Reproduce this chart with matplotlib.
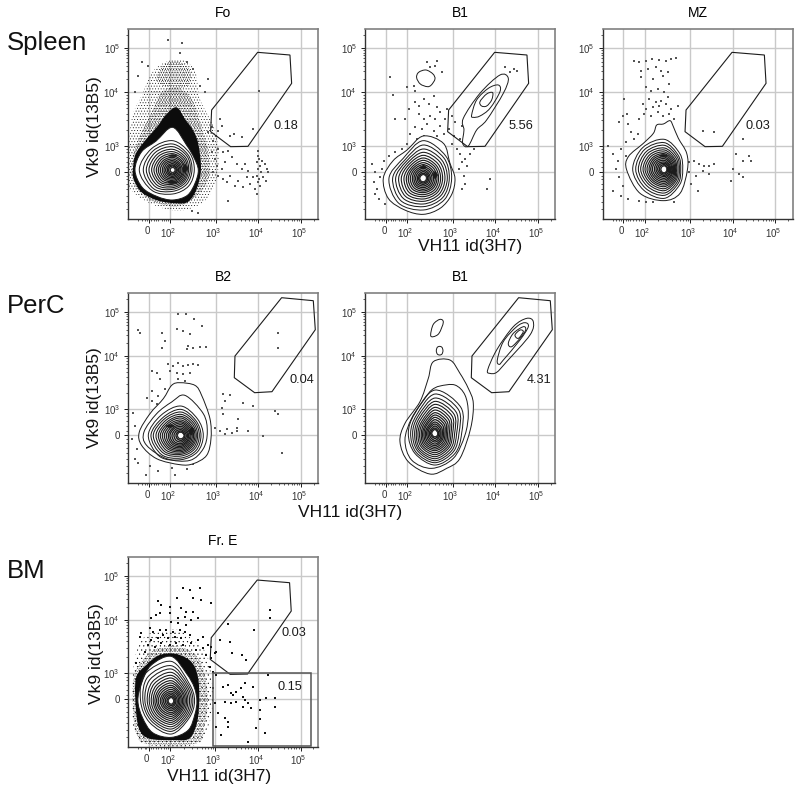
import numpy as np
import matplotlib
matplotlib.use("Agg")
import matplotlib.pyplot as plt
from matplotlib.path import Path
from matplotlib.patches import PathPatch
from matplotlib.transforms import ScaledTranslation

plt.rcParams['font.family'] = ['Liberation Sans', 'DejaVu Sans']
plt.rcParams['mathtext.fontset'] = 'custom'
plt.rcParams['mathtext.rm'] = 'Liberation Sans'
plt.rcParams['hatch.linewidth'] = 0.3

# ---- axis: biexponential channel scale, 0..570
TICK_CHANNELS_X = [62, 126, 262, 390, 518]
TICK_CHANNELS_Y = [142, 220, 380, 512]
X_LABELS = ['0', r'$\mathregular{10^{2}}$', r'$\mathregular{10^{3}}$', r'$\mathregular{10^{4}}$', r'$\mathregular{10^{5}}$']
Y_LABELS = ['0', r'$\mathregular{10^{3}}$', r'$\mathregular{10^{4}}$', r'$\mathregular{10^{5}}$']

GATE_LOW = [(250,327),(247,262),(307,217),(359,218),(490,407),(485,492),(388,500)]
GATE_HIGH = [(320,380),(318,315),(379,270),(431,273),(561,459),(555,546),(460,555)]
BM_RECT = [(255,3),(255,220),(550,220),(550,3)]

# ---- Fo
FO_CENTER = (133,147)
FO_OUTER = [77,74,85,128,100,108,113,105,92,90,88,78]
FO_RINGS = [[65,72,88,90,100,87,72,68],[58,65,78,82,88,80,64,60],[53,60,70,74,79,72,58,54],
 [48,54,62,66,71,65,53,49],[44,49,55,59,63,58,48,45],[40,44,49,52,56,52,43,41],[36,39,43,46,49,46,39,37],
 [33,35,38,40,43,40,35,33],[29,30,33,35,37,35,31,30],[25,26,28,30,31,30,27,26],[22,22,24,25,26,25,23,22],
 [18,18,19,20,21,20,19,18],[14,14,15,16,16,16,15,14],[11,11,12,12,12,12,12,11],[7,7,7,7,7,7,7,7]]
FO_BLOBS = [(170,152,[10,8,12,7,8,7,12,8]),(133,110,[14,5,4,5,14,5,4,5]),(133,190,[12,4,3,4,12,4,3,4])]
FO_SOLID = [(14,150),(22,195),(50,235),(85,275),(115,315),(145,335),(170,300),(195,265),(210,225),(218,150),
 (205,90),(180,52),(145,47),(90,55),(40,80),(16,120)]
FO_HATCH_INNER = [(10,170),(35,250),(70,320),(100,380),(145,395),(190,360),(215,290),(240,200),(240,120),(200,65),
 (145,38),(70,55),(20,100)]
FO_HATCH_OUTER = [(0,180),(0,100),(65,47),(155,25),(235,60),(270,150),(262,260),(215,360),(200,445),(150,480),
 (80,450),(40,370),(10,300)]
FO_HATCH_TOP = [(85,425),(110,465),(150,472),(185,445),(180,400),(130,395),(95,405)]
FO_DOTS = [(390,205),(388,190),(392,180),(385,170),(395,160),(390,150),(398,140),(386,130),(393,120),(388,110),
 (396,100),(402,175),(410,165),(415,150),(420,140),(405,125),(412,115),(380,90),(385,75),(300,55),(250,200),
 (260,180),(265,160),(255,140),(270,130),(280,150),(290,170),(285,120),(295,110),(305,130),(320,100),(330,115),
 (345,95),(355,125),(340,150),(365,105),(375,125),(360,145),(350,165),(325,165),(310,185),(300,205),(285,200),
 (270,210),(255,235),(262,250),(270,265),(280,280),(250,275),(240,260),(318,255),(340,245),(375,270),(393,385),
 (305,250),(120,537),(160,527),(155,497),(175,470),(195,450),(40,470),(60,460),(30,430),(20,380),(240,420),
 (215,400),(230,380),(275,300),(190,25),(210,18)]

# ---- B1 spleen
B1S_CENTER = (174,122)
B1S_OUTER = [95,92,121,127,98,105,120,121,110,108,103,98]
B1S_RINGS = [[85,95,113,85,103,105,95,90],[78,87,100,78,92,95,85,82],[72,78,88,72,83,85,77,74],
 [65,70,78,66,74,76,69,67],[58,62,69,60,66,68,62,60],[52,55,61,54,58,60,55,54],[46,49,54,48,51,53,49,48],
 [41,43,47,43,45,46,43,42],[36,37,41,38,39,40,38,37],[31,32,35,33,33,34,33,32],[26,27,30,28,28,29,28,27],
 [21,22,25,23,23,24,23,22],[17,18,20,18,18,19,18,17],[13,14,15,14,14,14,14,13],[9,10,11,10,10,10,10,9]]
B1S_BLOBS = [(209,132,[8,7,11,6,7,6,11,7]),(174,155,[10,6,8,5,12,5,4,5])]
B1S_ISLANDS = [[(154,424),(160,440),(182,447),(203,435),(209,420),(198,402),(186,397),(165,405)],
 [(294,302),(344,377),(404,432),(429,422),(414,377),(364,297),(334,267),(309,219),(292,227),(296,267)],
 [(319,312),(334,357),(369,392),(399,402),(404,382),(374,332),(344,309),(324,305)],
 [(344,352),(364,375),(382,379),(379,357),(364,339),(349,339)]]
B1S_DOTS = [(75,425),(185,470),(215,475),(230,440),(195,455),(210,460),(145,400),(150,385),(125,395),(82,372),
 (90,300),(150,350),(160,340),(175,360),(190,345),(205,370),(215,335),(160,315),(175,300),(195,310),(210,300),
 (225,320),(150,275),(170,270),(185,285),(205,265),(225,280),(240,300),(135,255),(155,240),(175,250),(195,240),
 (215,250),(235,255),(125,225),(145,215),(120,300),(130,330),(245,330),(260,310),(270,290),(250,270),(265,250),
 (285,240),(290,280),(260,225),(275,210),(285,195),(300,180),(315,195),(325,210),(290,170),(305,160),(280,150),
 (295,130),(300,105),(290,90),(375,120),(365,90),(420,455),(445,450),(435,440),(455,445),(20,165),(30,140),
 (25,110),(45,125),(35,90),(55,175),(70,190),(90,200),(110,210),(40,60),(60,45),(75,60),(50,150),(28,75)]

# ---- MZ
MZ_CENTER = (185,149)
MZ_OUTER = [(162,282),(182,285),(202,295),(212,277),(227,242),(252,197),(254,147),(232,77),(182,55),(112,77),
 (72,147),(77,187),(122,227),(152,257)]
MZ_RINGS = [[55,66,90,92,95,88,87,65],[49,59,80,84,86,80,78,59],[45,54,72,76,78,72,71,54],[41,49,64,69,71,65,64,49],
 [37,44,58,62,64,59,58,45],[34,40,52,56,58,53,52,41],[31,36,47,50,52,48,47,37],[28,32,42,45,46,43,42,33],
 [25,28,37,40,41,38,37,29],[22,25,32,35,36,33,32,26],[19,21,27,30,30,28,27,22],[16,18,22,25,25,23,22,19],
 [13,15,18,20,20,18,18,15],[10,11,14,15,15,14,14,11],[7,8,10,10,10,10,10,8]]
MZ_BLOBS = [(215,145,[7,6,12,5,6,5,12,6]),(182,190,[12,5,4,5,12,5,4,5])]
MZ_DOTS = [(95,475),(110,470),(130,475),(148,480),(170,478),(190,475),(205,480),(220,482),(115,445),(135,450),
 (160,455),(175,445),(195,440),(115,425),(150,420),(180,430),(200,405),(130,395),(145,385),(165,390),(185,380),
 (140,360),(160,350),(120,345),(130,330),(150,335),(170,340),(190,345),(205,330),(125,315),(145,310),(165,320),
 (180,310),(200,315),(215,300),(225,340),(110,300),(175,355),(195,365),(65,360),(72,315),(50,290),(60,310),
 (75,285),(85,260),(95,240),(105,255),(70,230),(15,220),(30,195),(45,175),(55,210),(70,190),(40,150),(50,125),
 (60,100),(30,85),(55,70),(75,60),(110,55),(130,50),(150,50),(215,50),(260,170),(275,175),(290,165),(305,160),
 (320,160),(335,165),(260,140),(280,130),(300,145),(320,135),(265,105),(285,85),(400,195),(440,190),(445,175),
 (390,150),(410,135),(420,125),(385,115),(420,175),(300,265),(335,260),(420,240)]

# ---- B2
B2_CENTER = (158,142)
B2_OUTER = [(155,300),(200,292),(220,262),(245,192),(248,132),(235,82),(195,57),(155,54),(85,72),(40,112),(33,152),
 (65,207),(105,252),(130,292)]
B2_SECOND = [(170,262),(225,207),(237,152),(225,102),(185,67),(115,72),(55,112),(47,152),(85,207),(130,242)]
B2_RINGS = [[67,70,88,85,98,90,73,70],[60,63,78,76,90,82,68,64],[55,58,70,70,83,75,62,58],[50,53,63,64,75,69,57,53],
 [46,48,57,58,68,63,53,48],[42,43,52,53,62,57,49,44],[38,39,46,48,56,52,45,40],[34,35,41,43,50,47,41,36],
 [30,31,37,38,44,42,37,32],[27,27,32,33,38,37,33,28],[23,23,27,29,33,32,29,25],[20,19,22,24,27,27,25,21],
 [16,15,17,19,21,21,20,17],[12,11,13,14,15,15,15,13],[9,8,9,10,10,10,10,9]]
B2_BLOBS = [(190,155,[8,9,12,6,8,9,12,6]),(125,170,[12,5,4,5,12,5,4,5])]
B2_DOTS = [(150,507),(172,505),(198,492),(222,470),(145,460),(165,455),(185,445),(100,450),(110,425),(100,405),
 (180,410),(175,400),(195,405),(215,407),(232,408),(30,457),(35,450),(120,355),(135,350),(150,360),(165,350),
 (180,352),(195,355),(210,352),(125,335),(145,330),(165,325),(185,330),(150,310),(170,305),(72,335),(85,330),
 (95,310),(70,275),(90,260),(110,280),(55,255),(70,245),(85,235),(100,225),(15,210),(20,170),(10,130),(25,100),
 (20,70),(30,60),(65,50),(90,35),(130,45),(175,40),(195,55),(52,22),(140,22),(285,265),(305,262),(290,245),
 (280,225),(285,205),(345,240),(330,190),(325,165),(260,165),(275,155),(295,160),(310,150),(290,145),(325,155),
 (360,155),(405,140),(375,230),(450,205),(460,90),(440,215),(450,450),(450,405)]

# ---- B1 peritoneal
B1P_CENTER = (209,148)
B1P_OUTER = [(204,363),(254,368),(284,328),(309,283),(324,238),(316,163),(284,73),(244,43),(194,26),(129,63),
 (104,123),(119,178),(164,243),(189,313)]
B1P_SECOND = [(224,290),(269,293),(299,263),(309,208),(299,143),(264,73),(199,43),(139,68),(119,128),(139,193),
 (179,253),(199,278)]
B1P_RINGS = [[80,110,130,85,80,85,95,85],[72,100,118,78,73,80,88,78],[65,90,106,72,67,74,82,72],[59,81,96,66,61,69,76,66],
 [53,73,87,60,56,64,70,60],[48,65,78,54,51,58,64,55],[43,58,70,49,46,53,58,50],[38,51,62,44,41,48,52,45],
 [34,45,55,39,37,43,47,40],[30,39,48,35,33,38,42,35],[26,33,41,30,29,33,37,30],[22,27,34,26,25,28,32,26],
 [18,22,28,22,21,23,26,22],[15,17,22,17,17,18,21,17],[11,12,16,13,13,13,15,13],[8,8,11,9,9,9,10,9]]
B1P_ISLANDS = [[(196,443),(204,475),(224,490),(234,481),(221,448),(204,438)],
 [(213,396),(216,406),(223,409),(230,406),(233,396),(230,386),(223,383),(216,386)],
 [(367,338),(394,398),(444,468),(484,493),(504,483),(494,443),(424,363),(394,331),(374,328)],
 [(396,368),(414,423),(454,468),(479,480),(489,468),(464,428),(414,368),(402,355)],
 [(429,418),(444,448),(474,468),(481,458),(464,433),(439,408)],
 [(449,443),(464,458),(474,453),(459,433)]]

# ---- Fr. E
FRE_CENTER = (130,138)
FRE_OUTER = [77,80,93,133,122,103,100,100,111,110,102,82]
FRE_RINGS = [[70,75,118,112,92,92,100,75],[65,70,105,100,85,85,92,70],[60,65,95,90,79,79,85,65],[55,60,85,80,72,73,78,60],
 [50,55,76,72,66,67,71,55],[46,50,68,64,60,61,65,50],[42,45,60,57,54,55,59,45],[38,41,53,50,49,50,53,41],
 [34,36,46,44,44,44,47,37],[30,32,40,38,39,39,41,33],[26,28,34,32,33,33,36,29],[22,24,28,27,28,28,30,25],
 [18,19,23,22,23,23,25,21],[14,15,18,17,18,18,20,16],[11,11,13,12,13,13,15,12],[7,7,9,8,9,9,10,8]]
FRE_SOLID = [(24,205),(55,245),(95,275),(145,278),(190,255),(210,210),(214,143),(208,75),(185,25),(135,20),(65,24),
 (35,50),(24,113)]
FRE_HATCH_INNER = [(18,210),(48,265),(90,295),(150,300),(205,275),(230,220),(240,140),(230,65),(205,10),(60,8),
 (25,40),(15,120)]
FRE_HATCH_OUTER = [(20,260),(50,330),(100,345),(150,350),(195,320),(235,280),(250,210),(255,130),(240,60),(200,5),
 (60,5),(22,40),(12,120)]
FRE_DOTS = [(165,475),(185,470),(215,477),(195,445),(220,440),(250,430),(90,437),(100,425),(125,420),(148,445),
 (125,400),(160,415),(175,405),(195,405),(210,385),(70,385),(85,395),(95,400),(150,385),(170,390),(130,375),
 (150,370),(175,365),(190,380),(40,340),(65,355),(75,345),(95,350),(115,350),(135,345),(155,350),(170,345),
 (35,330),(70,320),(90,325),(105,335),(120,325),(140,330),(160,325),(185,335),(60,305),(80,300),(100,310),
 (125,305),(145,310),(165,305),(190,310),(210,320),(225,330),(50,285),(205,290),(225,295),(240,305),(250,300),
 (25,250),(235,275),(250,265),(260,280),(245,240),(255,225),(265,215),(300,368),(377,350),(425,410),(425,385),
 (277,320),(307,315),(312,280),(342,275),(355,260),(265,285),(285,180),(300,185),(310,160),(325,165),(340,175),
 (350,190),(315,155),(345,150),(375,180),(420,215),(255,175),(260,130),(290,135),(310,130),(325,135),(350,140),
 (360,130),(345,120),(370,115),(395,140),(415,145),(440,145),(395,110),(442,120),(270,100),(290,85),(300,75),
 (265,60),(300,60),(385,55),(395,82),(412,40),(360,15),(280,35)]

W, H = 800, 789
fig = plt.figure(figsize=(W/100, H/100), dpi=100)
INK = '#1c1c1c'
TITLE_PAD = 8.5


def closed_smooth(x, y):
    """Closed Catmull-Rom outline through the read points, as Bezier path."""
    p = np.column_stack([x, y])
    n = len(p)
    verts = [p[0]]
    codes = [Path.MOVETO]
    for i in range(n):
        p0, p1, p2, p3 = p[i-1], p[i], p[(i+1) % n], p[(i+2) % n]
        verts += [p1+(p2-p0)/6, p2-(p3-p1)/6, p2]
        codes += [Path.CURVE4]*3
    return Path(verts, codes)


def polar(center, radii):
    r = np.asarray(radii, float)
    a = np.arange(len(r))*2*np.pi/len(r)
    return center[0]+r*np.cos(a), center[1]+r*np.sin(a)


def make_axes(left, top, size=190):
    ax = fig.add_axes([left/W, 1-(top+size)/H, size/W, size/H])
    ax.set_xlim(0, 570); ax.set_ylim(0, 570)
    ax.set_xticks(TICK_CHANNELS_X, X_LABELS)
    ax.set_yticks(TICK_CHANNELS_Y, Y_LABELS)
    mx = []
    for base, w in zip([126, 262, 390, 518], [136, 128, 128, 128]):
        mx += [base+w*np.log10(k) for k in range(2, 10)]
    mx += [30, 40, 50, 55, 69, 76, 83, 90, 100, 108, 114, 120]
    ax.set_xticks([v for v in mx if v < 570], minor=True)
    my = []
    for base, w in zip([220, 380, 512], [160, 132, 132]):
        my += [base+w*np.log10(k) for k in range(2, 10)]
    my += [30, 50, 70, 90, 105, 120, 130, 155, 170, 185, 200, 210]
    ax.set_yticks([v for v in my if v < 570], minor=True)
    ax.tick_params(which='major', length=3, width=0.7, color=INK, labelsize=7, labelcolor='#333333', pad=2.0)
    ax.tick_params(axis='y', which='major', pad=3.0)
    ax.tick_params(which='minor', length=1.6, width=0.5, color=INK)
    shift = ScaledTranslation(-2/100, 0, fig.dpi_scale_trans)
    for lab in ax.get_xticklabels():
        lab.set_transform(lab.get_transform()+shift)
    ax.grid(True, which='major', color='#c9c9c9', lw=1.0, zorder=0)
    ax.set_axisbelow(True)
    for s in ('left', 'bottom'):
        ax.spines[s].set_color('#333333'); ax.spines[s].set_linewidth(1.0)
    for s in ('top', 'right'):
        ax.spines[s].set_color('#808080'); ax.spines[s].set_linewidth(1.2)
    return ax


def line_loop(ax, pts, smooth=False, fill=None, z=4, lw=0.7, color=INK):
    x, y = zip(*pts)
    if smooth:
        path = closed_smooth(x, y)
    else:
        path = Path(list(pts)+[pts[0]], closed=True)
    ax.add_patch(PathPatch(path, fc=fill if fill else 'none', ec=color, lw=lw, zorder=z))


def nest(ax, center, outer, rings, blobs=()):
    if isinstance(outer[0], tuple):
        line_loop(ax, outer, smooth=True, fill='white', z=3)
    else:
        x, y = polar(center, outer)
        line_loop(ax, list(zip(x, y)), smooth=True, fill='white', z=3)
    n = len(rings)
    for i, r in enumerate(rings):
        x, y = polar(center, r)
        line_loop(ax, list(zip(x, y)), smooth=True, lw=0.7+0.4*i/n)
    for bx, by, br in blobs:
        x, y = polar((bx, by), br)
        line_loop(ax, list(zip(x, y)), smooth=True, fill=INK, lw=0.4)
    x, y = polar(center, rings[-1])
    line_loop(ax, list(zip(x, y)), smooth=True, fill='white', z=4.5, lw=0.6)


def dots(ax, pts, size=0.8, color='#555555'):
    x, y = zip(*pts)
    ax.scatter(x, y, s=size, c=color, marker='s', linewidths=0, zorder=2)


def stipple(ax, pts, pattern):
    ax.add_patch(PathPatch(closed_smooth(*zip(*pts)), fc='none', ec='black', lw=0, hatch=pattern, zorder=1))


def solid(ax, pts):
    ax.add_patch(PathPatch(closed_smooth(*zip(*pts)), fc='#0c0c0c', ec='none', zorder=1.5))


def gate(ax, pts, label, lx, ly):
    line_loop(ax, pts, lw=0.8, z=5)
    ax.text(lx, ly, label, fontsize=9.2, color='#1a1a1a', ha='center', va='center', zorder=6)


# Fo
ax = make_axes(128.3, 29)
stipple(ax, FO_HATCH_OUTER, '......'); stipple(ax, FO_HATCH_TOP, '........'); stipple(ax, FO_HATCH_INNER, '..........')
solid(ax, FO_SOLID); dots(ax, FO_DOTS)
nest(ax, FO_CENTER, FO_OUTER, FO_RINGS, FO_BLOBS)
gate(ax, GATE_LOW, '0.18', 472, 280)
ax.set_title('Fo', fontsize=10, pad=TITLE_PAD)

# B1 spleen
ax = make_axes(365.3, 29)
dots(ax, B1S_DOTS)
nest(ax, B1S_CENTER, B1S_OUTER, B1S_RINGS, B1S_BLOBS)
for isl in B1S_ISLANDS:
    line_loop(ax, isl, smooth=True, lw=0.7)
gate(ax, GATE_LOW, '5.56', 466, 280)
ax.set_title('B1', fontsize=10, pad=TITLE_PAD)

# MZ
ax = make_axes(602.7, 29)
dots(ax, MZ_DOTS)
nest(ax, MZ_CENTER, MZ_OUTER, MZ_RINGS, MZ_BLOBS)
gate(ax, GATE_LOW, '0.03', 467, 280)
ax.set_title('MZ', fontsize=10, pad=TITLE_PAD)

# B2
ax = make_axes(128.3, 292.7)
dots(ax, B2_DOTS)
nest(ax, B2_CENTER, B2_OUTER, B2_RINGS, B2_BLOBS)
line_loop(ax, B2_SECOND, smooth=True, lw=0.7)
gate(ax, GATE_HIGH, '0.04', 520, 308)
ax.set_title('B2', fontsize=10, pad=TITLE_PAD)

# B1 peritoneal
ax = make_axes(365.3, 292.7)
nest(ax, B1P_CENTER, B1P_OUTER, B1P_RINGS)
line_loop(ax, B1P_SECOND, smooth=True, lw=0.7)
for isl in B1P_ISLANDS:
    line_loop(ax, isl, smooth=True, lw=0.7)
gate(ax, GATE_HIGH, '4.31', 522, 309)
ax.set_title('B1', fontsize=10, pad=TITLE_PAD)

# Fr. E
ax = make_axes(127.9, 556.7)
stipple(ax, FRE_HATCH_OUTER, '....'); stipple(ax, FRE_HATCH_INNER, '..........')
solid(ax, FRE_SOLID); dots(ax, FRE_DOTS, size=1.7, color='#111111')
nest(ax, FRE_CENTER, FRE_OUTER, FRE_RINGS)
gate(ax, GATE_LOW, '0.03', 498, 340)
line_loop(ax, BM_RECT, lw=1.1, z=5, color='#555555')
ax.text(487, 178, '0.15', fontsize=9.2, color='#1a1a1a', ha='center', va='center', zorder=6)
ax.set_title('Fr. E', fontsize=10, pad=TITLE_PAD)


def ftext(x, y, s, **kw):
    fig.text(x/W, 1-y/H, s, color='#111111', **kw)


for name, yy in (('Spleen', 50), ('PerC', 313), ('BM', 578)):
    ftext(7, yy, name, fontsize=18.5, ha='left', va='baseline')
for xx, yy in ((470, 251), (350, 517.5), (219, 781)):
    ftext(xx, yy, 'VH11 id(3H7)', fontsize=12.5, ha='center', va='baseline')
for xx, yy in ((95, 127), (95, 398), (96.5, 654)):
    ftext(xx, yy, 'Vk9 id(13B5)', fontsize=12.5, rotation=90, ha='center', va='center')

fig.savefig('out.png', dpi=100)
